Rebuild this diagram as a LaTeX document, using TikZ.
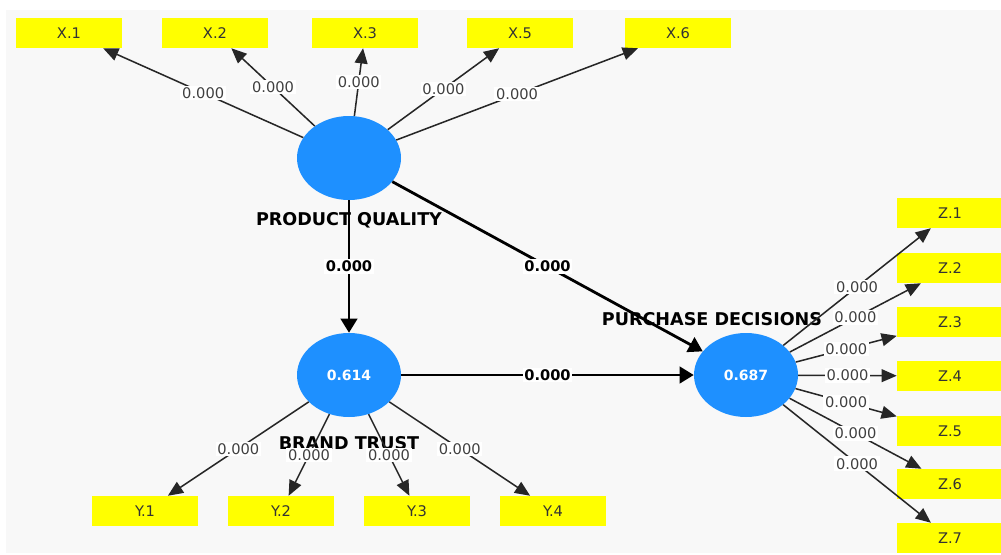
\documentclass[tikz,border=0pt]{standalone}
\usepackage{fontspec}
\setmainfont{DejaVu Sans}
\usetikzlibrary{shapes.geometric}
\usetikzlibrary{arrows.meta}
\definecolor{lvblue}{RGB}{30,144,255}
\definecolor{mvyellow}{RGB}{255,255,0}
\definecolor{canvas}{RGB}{248,248,248}

\begin{document}
\begin{tikzpicture}[x=0.03cm,y=-0.03cm,
    latent/.style={ellipse,fill=lvblue,minimum width=3.12cm,minimum height=2.52cm,
        inner sep=0pt,text=white,font=\bfseries\fontsize{12}{14}\selectfont},
    indicator/.style={rectangle,fill=mvyellow,minimum width=3.18cm,minimum height=0.9cm,
        inner sep=0pt,text=black!80,font=\fontsize{12.5}{14}\selectfont},
    lvname/.style={font=\bfseries\fontsize{15}{17}\selectfont},
    outer/.style={draw=black!85,line width=1.3pt,-{Triangle[length=13pt,width=11pt]}},
    inner/.style={draw=black,line width=2.4pt,-{Triangle[length=12pt,width=14pt]}},
    ldlabel/.style={pos=0.5,fill=white,inner sep=1.5pt,text=black!75,font=\fontsize{12.5}{14}\selectfont},
    pclabel/.style={pos=0.5,fill=white,inner sep=1.5pt,text=black,font=\bfseries\fontsize{12.5}{14}\selectfont}]

\useasboundingbox (0,0) rectangle (1001,554);
\fill[white] (0,0) rectangle (1001,554);
\fill[canvas] (6,10) rectangle (1001,553);

\newcommand{\loading}[3]{
    \draw[outer] (#1)--node[ldlabel]{#3}(#2);
}

\newcommand{\pathcoef}[3]{
    \draw[inner] (#1)--node[pclabel]{#3}(#2);
}

% latent variables
\node[latent] (PQ) at (349,158) {};
\node[latent] (BT) at (349,375) {0.614};
\node[latent] (PD) at (746,375) {0.687};

\node[lvname] (PQname) at (349,220) {PRODUCT QUALITY};
\node[lvname] (BTname) at (349,443) {BRAND TRUST};
\node[lvname] (PDname) at (712,319) {PURCHASE DECISIONS};

% indicators
\node[indicator] (X1) at (69,33) {X.1};
\node[indicator] (X2) at (215,33) {X.2};
\node[indicator] (X3) at (365,33) {X.3};
\node[indicator] (X5) at (520,33) {X.5};
\node[indicator] (X6) at (678,33) {X.6};

\node[indicator] (Y1) at (145,511) {Y.1};
\node[indicator] (Y2) at (281,511) {Y.2};
\node[indicator] (Y3) at (417,511) {Y.3};
\node[indicator] (Y4) at (553,511) {Y.4};

\node[indicator] (Z1) at (950,213) {Z.1};
\node[indicator] (Z2) at (950,268) {Z.2};
\node[indicator] (Z3) at (950,322) {Z.3};
\node[indicator] (Z4) at (950,376) {Z.4};
\node[indicator] (Z5) at (950,431) {Z.5};
\node[indicator] (Z6) at (950,484) {Z.6};
\node[indicator] (Z7) at (950,538) {Z.7};

\loading{PQ}{X1}{0.000}
\loading{PQ}{X2}{0.000}
\loading{PQ}{X3}{0.000}
\loading{PQ}{X5}{0.000}
\loading{PQ}{X6}{0.000}

\loading{BT}{Y1}{0.000}
\loading{BT}{Y2}{0.000}
\loading{BT}{Y3}{0.000}
\loading{BT}{Y4}{0.000}

\loading{PD}{Z1}{0.000}
\loading{PD}{Z2}{0.000}
\loading{PD}{Z3}{0.000}
\loading{PD}{Z4}{0.000}
\loading{PD}{Z5}{0.000}
\loading{PD}{Z6}{0.000}
\loading{PD}{Z7}{0.000}

% structural paths
\pathcoef{PQ}{BT}{0.000}
\pathcoef{PQ}{PD}{0.000}
\pathcoef{BT}{PD}{0.000}
\end{tikzpicture}
\end{document}
